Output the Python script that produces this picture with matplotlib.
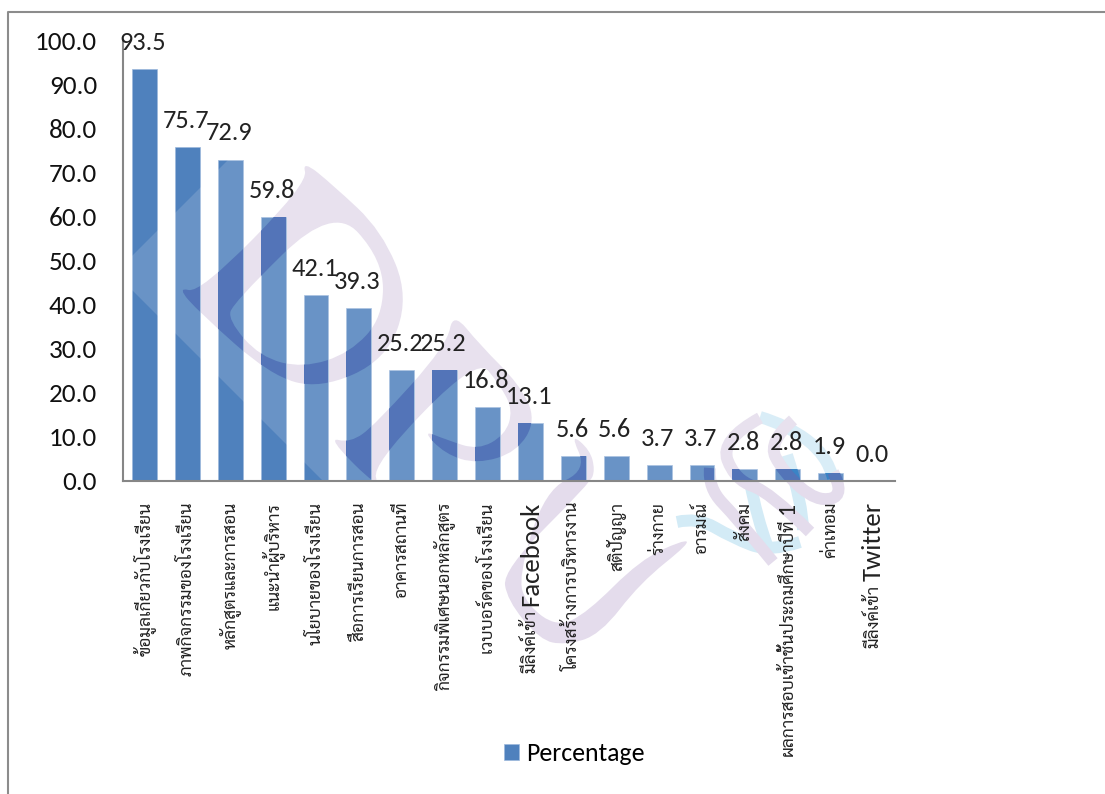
import numpy as np
import matplotlib
matplotlib.use('Agg')
import matplotlib.pyplot as plt
from matplotlib.path import Path
from matplotlib.patches import PathPatch, Polygon
from matplotlib.transforms import Affine2D

# ชื่อหมวด (ส่วนภาษาไทย / ส่วนภาษาอังกฤษแยกกัน เพราะขนาดตัวอักษรไม่เท่ากัน)
categories_th = ['ข้อมูลเกี่ยวกับโรงเรียน', 'ภาพกิจกรรมของโรงเรียน', 'หลักสูตรและการสอน', 'แนะนำผู้บริหาร',
                 'นโยบายของโรงเรียน', 'สื่อการเรียนการสอน', 'อาคารสถานที่', 'กิจกรรมพิเศษนอกหลักสูตร',
                 'เวบบอร์ดของโรงเรียน', 'มีลิงค์เข้า', 'โครงสร้างการบริหารงาน', 'สติปัญญา',
                 'ร่างกาย', 'อารมณ์', 'สังคม', 'ผลการสอบเข้าชั้นประถมศึกษาปีที่', 'ค่าเทอม', 'มีลิงค์เข้า']
categories_en = ['', '', '', '', '', '', '', '', '', 'Facebook', '', '', '', '', '', '1', '', 'Twitter']
values = [93.5, 75.7, 72.9, 59.8, 42.1, 39.3, 25.2, 25.2, 16.8, 13.1, 5.6, 5.6, 3.7, 3.7, 2.8, 2.8, 1.9, 0.0]
yticks = [0, 10, 20, 30, 40, 50, 60, 70, 80, 90, 100]

# ลายน้ำ (พิกัดเป็นพิกเซลของภาพ)
wm_ring_outer = [(302, 160), (333, 185), (382, 231), (409, 297), (386, 360), (320, 389), (270, 375),
                 (200, 313), (177, 287), (200, 293), (308, 183)]
wm_ring_inner = [(333, 205), (383, 260), (383, 317), (350, 353), (303, 368), (260, 357), (228, 320), (233, 303)]
wm_arch = [(453, 312), (480, 345), (520, 385), (536, 420), (517, 452), (477, 464), (445, 454), (422, 430),
           (447, 440), (478, 450), (505, 435), (513, 410), (500, 385), (477, 357), (372, 465),
           (380, 490), (327, 437), (350, 443), (375, 425), (447, 345)]
wm_tail = [(570, 433), (590, 450), (595, 470), (590, 483), (503, 570), (507, 600), (540, 640), (565, 645),
           (600, 635), (640, 583), (690, 543), (683, 540), (640, 560), (587, 613), (557, 627), (527, 605),
           (518, 577), (545, 490), (587, 470)]
wm_purple = [[(760, 418), (720, 440), (735, 480), (770, 492), (810, 532)],
             [(793, 420), (768, 442), (783, 472), (817, 502), (845, 495), (833, 472)],
             [(710, 468), (708, 488), (737, 518), (773, 562)]]
wm_cyan = [[(677, 522), (697, 517), (733, 538), (770, 552), (800, 542)],
           [(760, 417), (787, 425), (827, 455), (833, 478)],
           [(787, 455), (803, 505), (803, 530)],
           [(750, 482), (757, 518), (767, 545)]]
light_area = [(115, 273), (300, 88), (900, 88), (900, 481), (323, 481)]

W, H = 1105, 794
PURPLE, PURPLE_BAR = '#e4dcec', '#5374b8'
CYAN, CYAN_BAR = '#d3ebf6', '#3a84c6'

plt.rcParams['font.family'] = ['Carlito', 'Open Sans', 'Sarabun', 'Noto Sans Thai', 'DejaVu Sans']
th_fonts = ['Sarabun', 'Noto Sans Thai', 'DejaVu Sans']

fig = plt.figure(figsize=(W / 100, H / 100), dpi=100)
ax = fig.add_axes([123 / W, 1 - 481 / H, (895 - 123) / W, (481 - 40) / H])

x = np.arange(len(values))
bars = ax.bar(x, values, width=0.58, color='#4f81bd', edgecolor='#9db9dc', linewidth=0.5,
              label='Percentage', zorder=2)
for xi, v in zip(x, values):
    ax.annotate('%.1f' % v, (xi, v), xytext=(-1, 13.7), textcoords='offset points', ha='center', va='baseline',
                fontsize=19, color='#222222', zorder=5, annotation_clip=False)

ax.set_xlim(-0.5, len(values) - 0.5)
ax.set_ylim(0, 100)
ax.set_yticks(yticks)
ax.set_yticklabels(['%.1f' % t for t in yticks], fontsize=19.5, color='#111111')
ax.set_xticks(x)
ax.set_xticklabels(categories_th, rotation=90, fontsize=12.5, family=th_fonts, color='#222222')
ax.tick_params(length=0)
ax.tick_params(axis='x', pad=15)
ax.tick_params(axis='y', pad=18.7)
for s in ['top', 'right']:
    ax.spines[s].set_visible(False)
for s in ['left', 'bottom']:
    ax.spines[s].set_color('#868686')
    ax.spines[s].set_linewidth(1.5)

# ส่วนภาษาอังกฤษอยู่บนสุดของป้าย แล้วดันส่วนภาษาไทยลงมาตามความยาว
fig.canvas.draw()
renderer = fig.canvas.get_renderer()
ticks = ax.xaxis.get_major_ticks()
for xi, en in zip(x, categories_en):
    if en == '':
        continue
    t = ax.annotate(en, (xi, 0), xycoords=ax.get_xaxis_transform(), xytext=(0, -15), textcoords='offset points',
                    rotation=90, ha='center', va='top', fontsize=19.3 if en != '1' else 17, color='#222222',
                    annotation_clip=False)
    ticks[xi].set_pad(15 + t.get_window_extent(renderer).height * 0.72 + 3)


# เส้นโค้งเรียบผ่านจุดกึ่งกลาง
def smooth(pts, closed=True):
    pts = [np.array(p, dtype=float) for p in pts]
    if closed:
        verts = [(pts[-1] + pts[0]) / 2]
        codes = [Path.MOVETO]
        for i, p in enumerate(pts):
            verts += [p, (p + pts[(i + 1) % len(pts)]) / 2]
            codes += [Path.CURVE3, Path.CURVE3]
    else:
        verts = [pts[0]]
        codes = [Path.MOVETO]
        for i in range(1, len(pts) - 1):
            end = (pts[i] + pts[i + 1]) / 2 if i < len(pts) - 2 else pts[i + 1]
            verts += [pts[i], end]
            codes += [Path.CURVE3, Path.CURVE3]
    return Path(verts, codes)


px = Affine2D().scale(1, -1).translate(0, H)
bar_paths = [b.get_path().transformed(b.get_patch_transform()) for b in bars]
bar_clip = Path.make_compound_path(*bar_paths)

ax.add_patch(Polygon(light_area, closed=True, transform=px, facecolor='white', alpha=0.15,
                     edgecolor='none', zorder=2.05, clip_on=False))

filled = [Path.make_compound_path(smooth(wm_ring_outer), smooth(wm_ring_inner[::-1])), smooth(wm_arch), smooth(wm_tail)]
for path in filled:
    ax.add_patch(PathPatch(path, transform=px, facecolor=PURPLE, edgecolor='none', zorder=1, clip_on=False))
    top = PathPatch(path, transform=px, facecolor=PURPLE_BAR, edgecolor='none', zorder=2.1)
    ax.add_patch(top)
    top.set_clip_path(bar_clip, ax.transData)

for group, under, over in [(wm_cyan, CYAN, CYAN_BAR), (wm_purple, PURPLE, PURPLE_BAR)]:
    for pts in group:
        path = smooth(pts, closed=False)
        ax.add_patch(PathPatch(path, transform=px, facecolor='none', edgecolor=under, lw=8.6, zorder=1, clip_on=False))
        top = PathPatch(path, transform=px, facecolor='none', edgecolor=over, lw=8.6, zorder=2.1)
        ax.add_patch(top)
        top.set_clip_path(bar_clip, ax.transData)

ax.legend(handles=[bars], loc='center', bbox_to_anchor=(0.585, -0.617), frameon=False, fontsize=18.5,
          handlelength=0.58, handleheight=0.58, handletextpad=0.27)

fig.add_artist(plt.Line2D([8 / W, 8 / W, 1], [0, 1 - 12 / H, 1 - 12 / H], color='#8c8c8c', lw=1.5))

fig.savefig('out.png', dpi=100)
